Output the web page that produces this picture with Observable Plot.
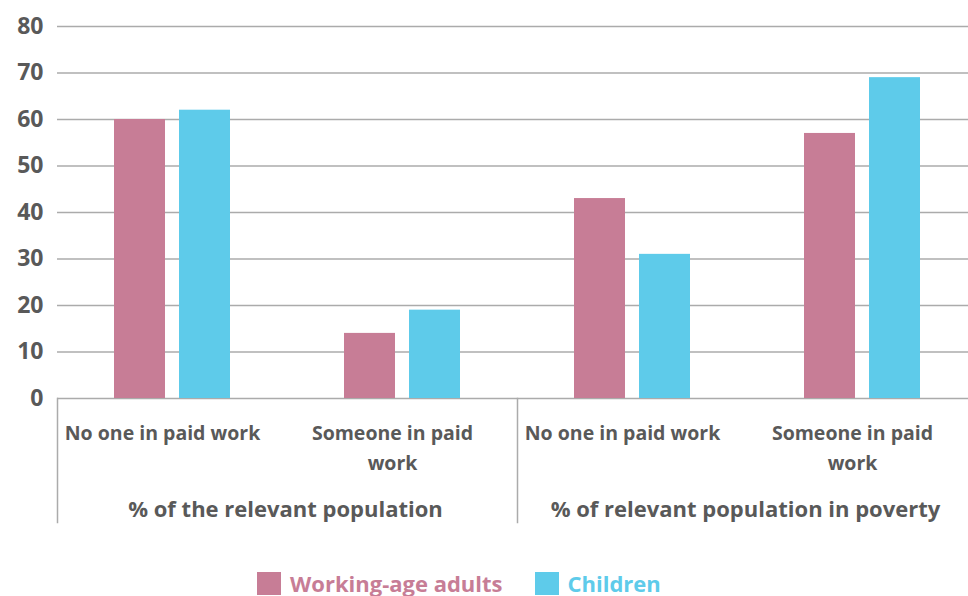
<!DOCTYPE html>
<html><head><meta charset="utf-8">
<script src="https://cdn.jsdelivr.net/npm/d3@7"></script>
<script src="https://cdn.jsdelivr.net/npm/@observablehq/plot@0.6"></script>
<style>
html,body{margin:0;padding:0;background:#fff;}
body{width:968px;height:596px;overflow:hidden;font-family:"Open Sans",sans-serif;}
#legend{display:flex;align-items:center;margin-top:41px;padding-left:257px;height:24px;font-weight:700;font-size:22px;white-space:nowrap;}
#legend .item{display:flex;align-items:center;margin-right:32px;}
#legend .sw{width:24px;height:23px;margin-right:9px;}
</style></head>
<body><div id="chart"></div><div id="legend"></div>
<script>
const groups = ["% of the relevant population", "% of relevant population in poverty"];
const categories = ["No one in paid work", "Someone in paid work", "No one in paid work", "Someone in paid work"];
const seriesNames = ["Working-age adults", "Children"];
const adults = [60, 14, 43, 57];
const children = [62, 19, 31, 69];
const yTicks = [0, 10, 20, 30, 40, 50, 60, 70, 80];
const colors = ["#c77d96", "#5ecbea"];
const textColor = "#595959";
const gridColor = "#ababab";

const positions = categories.map((_, i) => i);
const rows = [];
positions.forEach(i => {
  rows.push({pos: i, series: seriesNames[0], value: adults[i]});
  rows.push({pos: i, series: seriesNames[1], value: children[i]});
});
const catRows = positions.map(i => ({pos: i, label: categories[i]}));
const groupRows = groups.map((g, j) => ({pos: j * 2, label: g}));

const chart = Plot.plot({
  width: 978, height: 530,
  marginLeft: 56, marginRight: 0, marginTop: 26, marginBottom: 132,
  style: {fontFamily: '"Open Sans", sans-serif', maxWidth: "none", overflow: "visible", background: "transparent"},
  fx: {domain: positions, padding: 0, axis: null},
  x: {domain: seriesNames, paddingInner: 0.214, paddingOuter: 0.866, axis: null},
  y: {domain: [0, 80], axis: null},
  color: {domain: seriesNames, range: colors},
  marks: [
    Plot.gridY(yTicks, {stroke: gridColor, strokeOpacity: 1, strokeWidth: 1.5}),
    Plot.axisY(yTicks, {tickSize: 0, tickPadding: 14, fontSize: 23, fontWeight: 700, fill: textColor, label: null}),
    Plot.barY(rows, {fx: "pos", x: "series", y: "value", fill: "series"}),
    Plot.frame({anchor: "left", fx: () => 0, stroke: gridColor, strokeWidth: 1.5, insetTop: 372, insetBottom: -124}),
    Plot.frame({anchor: "left", fx: () => 2, stroke: gridColor, strokeWidth: 1.5, insetTop: 372, insetBottom: -124}),
    Plot.text(catRows, {fx: "pos", text: "label", frameAnchor: "bottom", lineAnchor: "top", dx: -10, dy: 20, lineWidth: 10, lineHeight: 1.55, fontSize: 19.5, fontWeight: 700, fill: textColor}),
    Plot.text(groupRows, {fx: "pos", text: "label", frameAnchor: "bottom-right", textAnchor: "middle", lineAnchor: "top", dx: -2, dy: 103, fontSize: 22, fontWeight: 700, fill: textColor})
  ]
});
document.getElementById("chart").appendChild(chart);

const legend = document.getElementById("legend");
seriesNames.forEach((s, i) => {
  const item = document.createElement("div");
  item.className = "item";
  const sw = document.createElement("span");
  sw.className = "sw";
  sw.style.background = colors[i];
  const t = document.createElement("span");
  t.textContent = s;
  t.style.color = colors[i];
  item.appendChild(sw); item.appendChild(t);
  legend.appendChild(item);
});
</script>
</body></html>
